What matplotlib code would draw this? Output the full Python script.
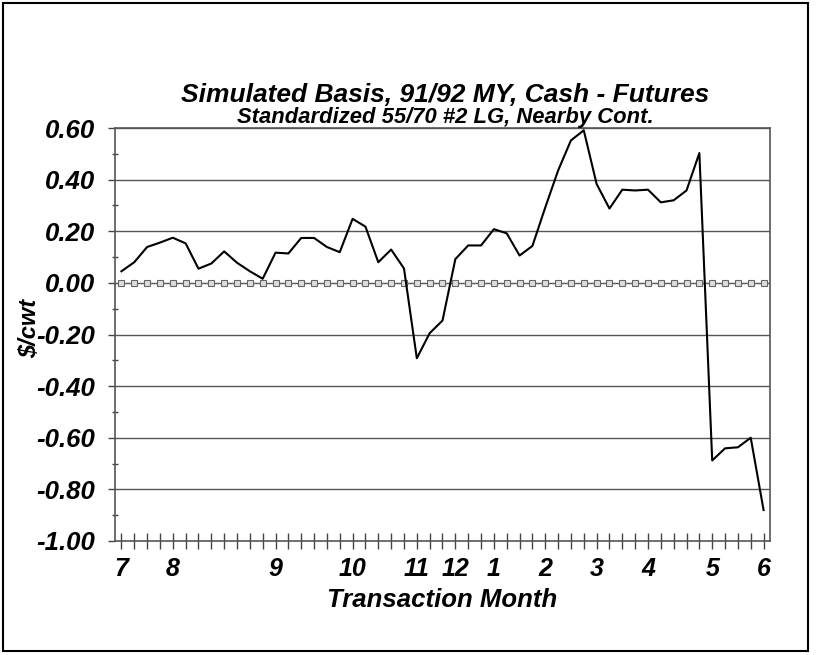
import matplotlib
matplotlib.use('Agg')
import matplotlib.pyplot as plt
from matplotlib import font_manager
from matplotlib.patches import Rectangle

# Weekly simulated basis values, $/cwt
basis = [0.045, 0.080, 0.139, 0.156, 0.175, 0.153, 0.055, 0.075, 0.122, 0.078,
         0.045, 0.016, 0.117, 0.114, 0.174, 0.174, 0.139, 0.119, 0.248, 0.218,
         0.080, 0.129, 0.056, -0.292, -0.195, -0.146, 0.092, 0.145, 0.145, 0.208,
         0.192, 0.106, 0.143, 0.292, 0.435, 0.552, 0.591, 0.383, 0.288, 0.361,
         0.358, 0.361, 0.312, 0.320, 0.358, 0.503, -0.688, -0.641, -0.637, -0.600,
         -0.880]
zero_line = [0.0] * len(basis)

# month label -> week index
month_pos = [0, 4, 12, 18, 23, 26, 29, 33, 37, 41, 46, 50]
month_labels = ['7', '8', '9', '10', '11', '12', '1', '2', '3', '4', '5', '6']

y_ticks = [0.60, 0.40, 0.20, 0.00, -0.20, -0.40, -0.60, -0.80, -1.00]

names = {f.name for f in font_manager.fontManager.ttflist}
title_font = 'Liberation Sans Narrow' if 'Liberation Sans Narrow' in names else 'Liberation Sans'
plt.rcParams['font.family'] = ['Liberation Sans', 'DejaVu Sans']

fig = plt.figure(figsize=(8.17, 6.55), dpi=100)
ax = fig.add_axes([115 / 817, 1 - 541 / 655, 655 / 817, 413 / 655])

x = list(range(len(basis)))
ax.plot(x, zero_line, linestyle=':', color='#777777', linewidth=1.0,
        marker='s', markersize=4, markerfacecolor='#dddddd',
        markeredgecolor='#666666', markeredgewidth=0.8, zorder=2)
ax.plot(x, basis, color='black', linewidth=1.5, zorder=3)

ax.set_xlim(-0.5, len(basis) - 0.5)
ax.set_ylim(-1.0, 0.6)

for v in y_ticks:
    if v != -1.0:
        ax.axhline(v, color='#555555', linewidth=1.0, zorder=1)

xt_labels = [''] * len(basis)
for p, lab in zip(month_pos, month_labels):
    xt_labels[p] = lab
ax.set_xticks(x)
ax.set_xticklabels(xt_labels, fontsize=18, fontweight='bold', fontstyle='italic')
ax.tick_params(axis='x', direction='inout', length=11, width=1, color='#444444', pad=6)

ax.set_yticks(y_ticks)
ax.set_yticklabels([f'{v:.2f}' for v in y_ticks], fontsize=18.5,
                   fontweight='bold', fontstyle='italic')
ax.set_yticks([0.5, 0.3, 0.1, -0.1, -0.3, -0.5, -0.7, -0.9], minor=True)
ax.tick_params(axis='y', which='major', direction='out', length=5, width=1,
               color='#444444', pad=9)
ax.tick_params(axis='y', which='minor', direction='inout', length=4, width=1,
               color='#444444')

for s in ax.spines.values():
    s.set_color('#555555')
    s.set_linewidth(1.2)

ax.set_xlabel('Transaction Month', fontsize=18.5, fontweight='bold',
              fontstyle='italic', labelpad=5)
ax.set_ylabel('$/cwt', fontsize=17, fontweight='bold', fontstyle='italic')
ax.yaxis.set_label_coords(-0.113, 0.515)

fig.text(0.545, 1 - 95 / 655, 'Simulated Basis, 91/92 MY, Cash - Futures',
         family=title_font, fontsize=19, fontweight='bold', fontstyle='italic',
         ha='center', va='center')
fig.text(0.545, 1 - 117 / 655, 'Standardized 55/70 #2 LG, Nearby Cont.',
         family=title_font, fontsize=15.8, fontweight='bold', fontstyle='italic',
         ha='center', va='center')

# outer frame
fig.patches.append(Rectangle((3 / 817, 4 / 655), 805 / 817, 648 / 655,
                             transform=fig.transFigure, fill=False,
                             edgecolor='black', linewidth=1.5))

fig.savefig('out.png', dpi=100)
